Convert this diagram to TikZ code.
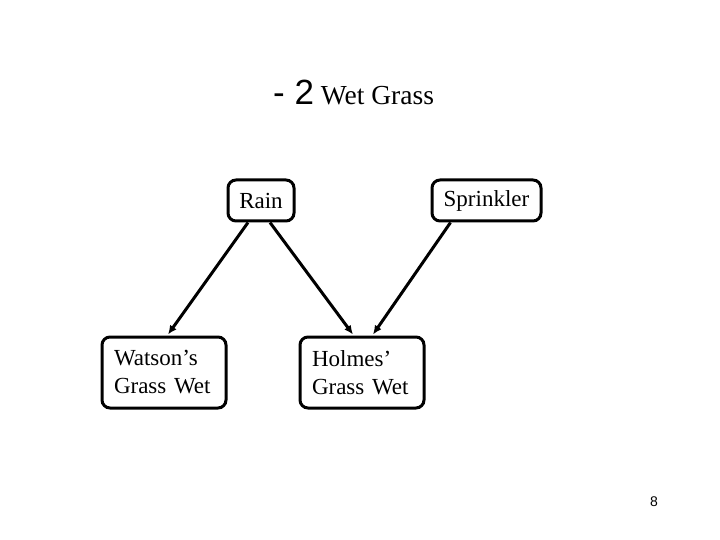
\documentclass[tikz,border=0pt]{standalone}
\usepackage{fontspec}
\setmainfont{Liberation Serif}
\newfontfamily\arialf{Liberation Sans}
\usetikzlibrary{arrows.meta,calc}
\begin{document}
\begin{tikzpicture}[x=1pt,y=-1pt,
  varbox/.style={draw,line width=3pt,rounded corners=8pt,inner sep=0pt,font=\fontsize{23}{28}\selectfont},
  twoline/.style={varbox,text width=100pt,align=left,minimum height=71pt,inner xsep=12pt},
  causal/.style={line width=3pt,-{Latex[length=9pt,width=8pt]}}]
\useasboundingbox (0,0) rectangle (720,540);
\node[anchor=base west,inner sep=0pt] (title) at (273,105) {{\arialf\fontsize{35}{40}\selectfont - 2}{\fontsize{27.5}{32}\selectfont\ Wet Grass}};
\node[varbox,minimum width=66pt,minimum height=41pt] (rain) at (261,200.5) {Rain};
\node[varbox,minimum width=109pt,minimum height=41pt] (spr) at (486.5,200.5) {Sprinkler};
\node[twoline] (watson) at (164,372.5) {Watson’s\\Grass Wet};
\node[twoline] (holmes) at (362,372.5) {Holmes’\\Grass Wet};
\draw[causal] ($(rain.south)+(-13,0)$) -- ($(watson.north)+(4,-1)$);
\draw[causal] ($(rain.south)+(9,0)$) -- ($(holmes.north)+(-9,-1)$);
\draw[causal] ($(spr.south)+(-36,0)$) -- ($(holmes.north)+(11,-1)$);
\node[font=\arialf\fontsize{14}{16}\selectfont,inner sep=0pt] (pagenum) at (654,502) {8};
\end{tikzpicture}
\end{document}
